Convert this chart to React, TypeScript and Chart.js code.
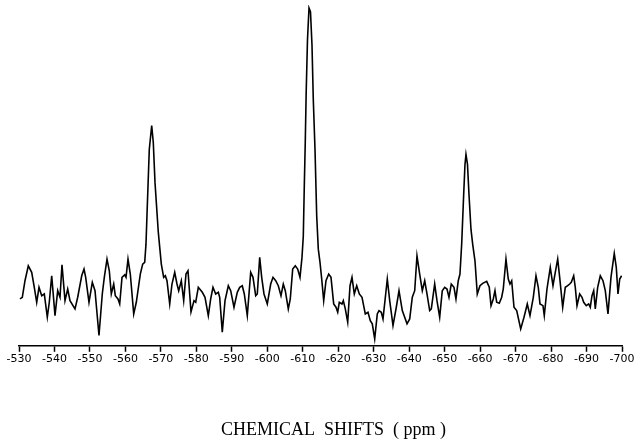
import React, { useEffect, useRef } from "react";
import { Chart, registerables } from "chart.js";

Chart.register(...registerables);

// Chemical shift (ppm) of each sampled point of the spectrum
const shiftPpm = [
  -530.28, -530.93, -531.69, -532.62, -533.58, -534.31, -534.99, -535.64, -536.4, -537.13,
  -537.98, -538.54, -539.22, -540.15, -540.91, -541.56, -542.12, -542.97, -543.73, -544.38,
  -545.79, -546.55, -547.68, -548.33, -548.8, -549.73, -550.67, -551.43, -552.55, -553.48,
  -554.05, -554.81, -555.46, -556.02, -556.7, -557.15, -557.91, -558.39, -559.04, -559.8,
  -560.17, -560.73, -561.38, -562.34, -563.07, -564.2, -564.87, -565.44, -565.8, -566.09,
  -566.73, -567.41, -567.86, -568.34, -569.27, -570.12, -570.79, -571.25, -571.72, -572.49,
  -573.13, -573.9, -574.54, -575.02, -575.76, -576.43, -577.08, -577.64, -578.49, -579.34,
  -579.82, -580.55, -581.68, -582.44, -583.37, -584.04, -584.69, -585.45, -586.19, -586.58,
  -587.31, -588.08, -589.01, -589.68, -590.61, -591.54, -592.22, -592.95, -593.52, -594.36,
  -595.32, -595.97, -596.73, -597.18, -597.86, -598.42, -599.07, -600.0, -600.96, -601.61,
  -602.37, -603.1, -603.86, -604.51, -605.07, -605.92, -606.48, -607.16, -607.89, -608.57,
  -609.22, -609.78, -610.15, -610.43, -610.71, -610.95, -611.33, -611.76, -612.18, -612.6,
  -612.97, -613.45, -613.93, -614.38, -614.86, -615.34, -615.9, -616.55, -617.31, -617.96,
  -618.72, -619.37, -619.85, -620.3, -621.06, -621.43, -621.99, -622.67, -623.32, -623.88,
  -624.53, -625.21, -625.94, -626.7, -627.63, -628.39, -629.04, -629.6, -630.28, -631.01,
  -631.49, -632.14, -632.62, -633.38, -633.83, -634.51, -635.44, -636.37, -637.13, -638.06,
  -639.39, -640.15, -640.88, -641.56, -642.2, -642.96, -643.7, -644.38, -645.02, -645.78,
  -646.24, -647.19, -647.84, -648.6, -649.33, -650.01, -650.66, -651.22, -651.87, -652.63,
  -653.19, -653.84, -654.32, -654.8, -655.31, -655.73, -656.01, -656.44, -656.86, -657.42,
  -657.9, -658.55, -659.2, -659.96, -660.72, -661.85, -662.58, -663.07, -663.71, -664.19,
  -664.67, -665.4, -666.08, -666.53, -667.29, -667.94, -668.42, -668.9, -669.55, -670.31,
  -671.44, -672.37, -673.3, -674.06, -674.99, -675.75, -676.4, -676.88, -677.72, -678.09,
  -678.85, -679.78, -680.54, -681.19, -681.87, -682.43, -683.28, -684.01, -684.69, -685.25,
  -685.7, -686.38, -686.83, -687.31, -688.07, -688.72, -689.2, -689.93, -690.61, -691.06,
  -691.54, -692.02, -692.47, -693.14, -693.88, -694.64, -695.29, -696.05, -696.89, -697.82,
  -698.39, -698.87, -699.35, -699.9,
];

// Signal intensity (arbitrary units) at each shift above
const intensity = [
  47, 48.7, 65.3, 80.3, 73.7, 58.7, 43.7, 58.7, 50.3, 52,
  28.7, 43.7, 70.3, 30.3, 55.3, 48.7, 81.3, 45.3, 57, 45.3,
  37, 48.7, 70.3, 77, 68.7, 43.7, 63.7, 55.3, 10.3, 52,
  68.7, 87, 75.3, 52, 62, 50.3, 47, 42, 68.7, 71.3,
  68.7, 87, 72, 32, 43.7, 72, 82, 83.7, 102, 132,
  197, 221, 204, 164, 114, 82, 68.7, 70.3, 65.3, 42,
  62, 73.7, 62, 55.3, 65.3, 45.3, 72, 75.3, 34, 45.3,
  43.7, 58.7, 53.7, 48.7, 30.3, 47, 58.7, 52, 53.7, 48.7,
  13.7, 45.3, 60.3, 55.3, 38.7, 53.7, 58.7, 60.3, 52, 30.3,
  73.7, 68.7, 50.3, 52, 88.7, 68.7, 52, 42, 62, 68.7,
  65.3, 60.3, 50.3, 62, 55.3, 37, 47, 77, 80.3, 77,
  68.7, 88.7, 110, 160, 205, 252, 307, 339, 335, 302,
  247, 197, 130.3, 97, 83.7, 67, 45.3, 65.3, 72, 68.7,
  42, 38.7, 33.7, 43.7, 42, 45.3, 37, 23.7, 60.3, 68.7,
  52, 60.3, 52, 48.7, 32, 33.7, 25.3, 22, 7, 32,
  35.3, 33.7, 27, 52, 67, 45.3, 20.3, 38.7, 55.3, 35.3,
  22, 27, 48.7, 55.3, 90.3, 72, 55.3, 65.3, 52, 35.3,
  37, 62, 45.3, 28.7, 55.3, 58.7, 57, 48.7, 62, 58.7,
  47, 65.3, 72, 102, 147, 182, 192, 182, 152, 117,
  102, 85.3, 52, 60.3, 62.7, 64.7, 58.7, 40.3, 47, 55.3,
  43.7, 42.7, 48.7, 57, 87, 67, 62, 65.3, 38.7, 35.3,
  17, 28.7, 42, 30.3, 48.7, 70.3, 58.7, 42, 40.3, 30.3,
  57, 78.7, 60.3, 73.7, 87, 68.7, 38.7, 58.7, 60.3, 62,
  63.7, 70.3, 58.7, 40.3, 52, 48.7, 43.7, 40.3, 42, 38.7,
  50.3, 55.3, 37, 58.7, 70.3, 65.3, 55.3, 32, 68.7, 92.7,
  78.7, 52, 67, 70.3,
];

// Axis range and tick spacing (ppm)
const axisMin = -700;
const axisMax = -530;
const tickStep = 10;
const axisTitle = "CHEMICAL  SHIFTS  ( ppm )";

const axisTitlePlugin = {
  id: "axisTitleText",
  afterDraw(chart: any) {
    const { ctx, chartArea } = chart;
    ctx.save();
    ctx.fillStyle = "#000";
    ctx.font = '18px "Liberation Serif"';
    ctx.textAlign = "center";
    ctx.textBaseline = "middle";
    const cx = (chartArea.left + chartArea.right) / 2 + 13;
    ctx.fillText(axisTitle, cx, chartArea.bottom + 84);
    ctx.restore();
  },
};

export default function App() {
  const canvasRef = useRef<HTMLCanvasElement | null>(null);

  useEffect(() => {
    const canvas = canvasRef.current;
    if (!canvas) return;
    const points = shiftPpm.map((x, i) => ({ x, y: intensity[i] }));
    const chart = new Chart(canvas, {
      type: "line",
      data: {
        datasets: [
          {
            data: points,
            borderColor: "#000",
            borderWidth: 1.6,
            pointRadius: 0,
            tension: 0,
            fill: false,
          },
        ],
      },
      options: {
        animation: false,
        responsive: false,
        maintainAspectRatio: false,
        layout: { padding: { top: 5, left: 19, right: 18, bottom: 73 } },
        plugins: {
          legend: { display: false },
          tooltip: { enabled: false },
          title: { display: false },
        },
        scales: {
          x: {
            type: "linear",
            min: axisMin,
            max: axisMax,
            reverse: true,
            border: { display: true, color: "#000", width: 1.5 },
            grid: {
              display: true,
              drawOnChartArea: false,
              drawTicks: true,
              tickLength: 6,
              tickWidth: 1.5,
              tickColor: "#000",
            },
            ticks: {
              stepSize: tickStep,
              autoSkip: false,
              maxRotation: 0,
              minRotation: 0,
              padding: 1,
              color: "#000",
              font: { family: "DejaVu Sans", size: 11 },
              callback: (v: any) => String(v),
            },
          },
          y: {
            display: false,
            min: 0,
            max: 342,
          },
        },
      },
      plugins: [axisTitlePlugin],
    });
    return () => chart.destroy();
  }, []);

  return (
    <div style={{ position: "absolute", left: 0, top: 0, width: 640, height: 440, background: "#fff" }}>
      <canvas ref={canvasRef} width={640} height={440} style={{ width: 640, height: 440, display: "block" }} />
    </div>
  );
}
